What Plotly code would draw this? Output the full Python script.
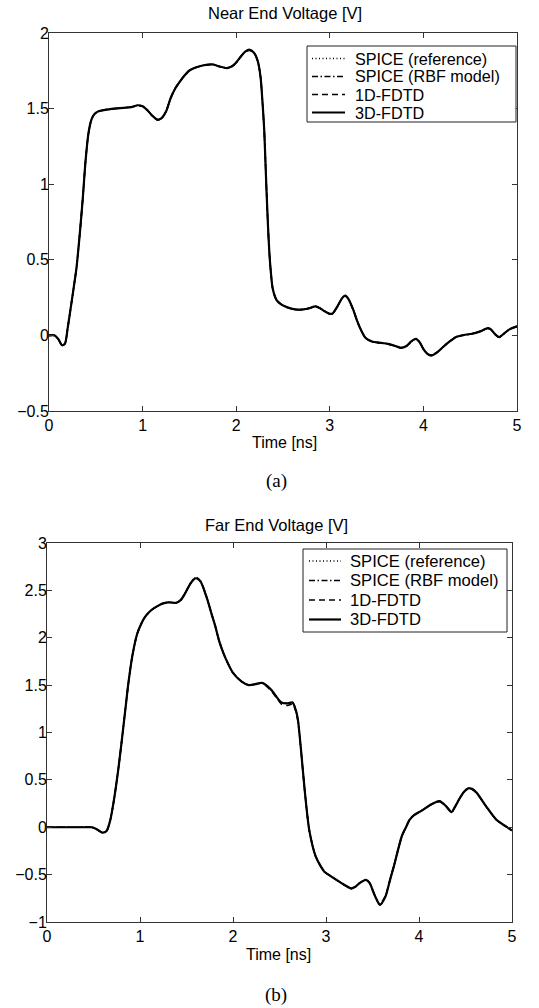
import plotly.graph_objects as go

# ---------------- Near end (a) ----------------
t_near = [0.00, 0.06, 0.10, 0.14, 0.17, 0.20, 0.26, 0.294, 0.33, 0.36, 0.39, 0.42, 0.45, 0.48,
          0.52, 0.60, 0.70, 0.80, 0.88, 0.95, 1.00, 1.05, 1.10, 1.16, 1.20, 1.25, 1.30, 1.35,
          1.40, 1.45, 1.50, 1.56, 1.64, 1.75, 1.82, 1.90, 1.96, 2.00, 2.05, 2.10, 2.14, 2.19,
          2.23, 2.26, 2.28, 2.30, 2.32, 2.34, 2.355, 2.37, 2.39, 2.43, 2.48, 2.54, 2.60, 2.66,
          2.72, 2.77, 2.85, 2.90, 2.95, 3.00, 3.03, 3.08, 3.13, 3.165, 3.20, 3.25, 3.29, 3.33,
          3.38, 3.45, 3.55, 3.62, 3.70, 3.76, 3.82, 3.87, 3.92, 3.96, 4.00, 4.05, 4.09, 4.15,
          4.21, 4.28, 4.35, 4.43, 4.52, 4.60, 4.69, 4.72, 4.77, 4.81, 4.86, 4.92, 5.00]

v_near_3d = [0.0, 0.0, -0.025, -0.065, -0.055, 0.05, 0.30, 0.449, 0.68, 0.90, 1.15, 1.33, 1.42, 1.46,
             1.48, 1.492, 1.50, 1.505, 1.51, 1.522, 1.515, 1.49, 1.455, 1.427, 1.435, 1.48, 1.57, 1.635,
             1.68, 1.72, 1.752, 1.77, 1.785, 1.792, 1.779, 1.768, 1.782, 1.805, 1.845, 1.878, 1.89, 1.87,
             1.815, 1.71, 1.55, 1.35, 1.02, 0.72, 0.54, 0.42, 0.31, 0.235, 0.205, 0.187, 0.175, 0.17,
             0.172, 0.178, 0.192, 0.178, 0.158, 0.143, 0.145, 0.19, 0.245, 0.264, 0.24, 0.17, 0.10, 0.04,
             -0.015, -0.04, -0.05, -0.056, -0.07, -0.082, -0.07, -0.04, -0.022, -0.045, -0.09, -0.125, -0.132, -0.11,
             -0.077, -0.04, -0.01, 0.002, 0.011, 0.025, 0.048, 0.04, 0.005, -0.012, 0.012, 0.04, 0.06]

v_near_1d = [0.0, 0.0, -0.025, -0.066, -0.055, 0.05, 0.30, 0.449, 0.68, 0.90, 1.15, 1.33, 1.42, 1.46,
             1.48, 1.492, 1.50, 1.505, 1.51, 1.52, 1.515, 1.49, 1.455, 1.424, 1.435, 1.48, 1.57, 1.635,
             1.68, 1.72, 1.752, 1.77, 1.785, 1.792, 1.779, 1.768, 1.782, 1.805, 1.845, 1.878, 1.885, 1.87,
             1.815, 1.71, 1.55, 1.35, 1.02, 0.72, 0.54, 0.42, 0.31, 0.235, 0.205, 0.187, 0.175, 0.17,
             0.172, 0.178, 0.19, 0.178, 0.158, 0.14, 0.145, 0.19, 0.245, 0.26, 0.24, 0.17, 0.10, 0.04,
             -0.015, -0.04, -0.05, -0.056, -0.07, -0.082, -0.07, -0.04, -0.025, -0.045, -0.09, -0.125, -0.135, -0.11,
             -0.077, -0.04, -0.01, 0.002, 0.011, 0.025, 0.045, 0.04, 0.005, -0.012, 0.012, 0.04, 0.06]

v_near_rbf = [0.0, 0.0, -0.025, -0.065, -0.055, 0.05, 0.30, 0.449, 0.68, 0.90, 1.15, 1.33, 1.42, 1.46,
              1.48, 1.492, 1.50, 1.505, 1.51, 1.522, 1.515, 1.49, 1.455, 1.427, 1.435, 1.48, 1.57, 1.635,
              1.68, 1.72, 1.752, 1.77, 1.785, 1.792, 1.779, 1.768, 1.782, 1.805, 1.845, 1.878, 1.888, 1.87,
              1.815, 1.71, 1.55, 1.35, 1.02, 0.72, 0.54, 0.42, 0.31, 0.235, 0.205, 0.187, 0.175, 0.17,
              0.172, 0.178, 0.192, 0.178, 0.158, 0.143, 0.145, 0.19, 0.245, 0.262, 0.24, 0.17, 0.10, 0.04,
              -0.015, -0.04, -0.05, -0.056, -0.07, -0.082, -0.07, -0.04, -0.022, -0.045, -0.09, -0.125, -0.13, -0.11,
              -0.077, -0.04, -0.01, 0.002, 0.011, 0.025, 0.048, 0.04, 0.005, -0.012, 0.012, 0.04, 0.06]

v_near_spice = [0.0, 0.0, -0.025, -0.065, -0.055, 0.05, 0.30, 0.449, 0.68, 0.90, 1.15, 1.33, 1.42, 1.46,
                1.48, 1.492, 1.50, 1.505, 1.51, 1.522, 1.515, 1.49, 1.455, 1.427, 1.435, 1.48, 1.57, 1.635,
                1.68, 1.72, 1.752, 1.77, 1.785, 1.792, 1.779, 1.768, 1.782, 1.805, 1.845, 1.878, 1.89, 1.87,
                1.815, 1.71, 1.55, 1.35, 1.02, 0.72, 0.54, 0.42, 0.31, 0.235, 0.205, 0.187, 0.175, 0.17,
                0.172, 0.178, 0.192, 0.178, 0.158, 0.143, 0.145, 0.19, 0.245, 0.264, 0.24, 0.17, 0.10, 0.04,
                -0.015, -0.04, -0.05, -0.056, -0.07, -0.082, -0.07, -0.04, -0.022, -0.045, -0.09, -0.125, -0.132, -0.11,
                -0.077, -0.04, -0.01, 0.002, 0.011, 0.025, 0.048, 0.04, 0.005, -0.012, 0.012, 0.04, 0.06]

# ---------------- Far end (b) ----------------
t_far = [0.00, 0.20, 0.40, 0.48, 0.53, 0.595, 0.64, 0.68, 0.725, 0.77, 0.813, 0.849, 0.875, 0.916,
         0.969, 1.02, 1.056, 1.12, 1.178, 1.24, 1.30, 1.39, 1.44, 1.48, 1.545, 1.60, 1.65, 1.72,
         1.77, 1.81, 1.85, 1.90, 1.95, 2.00, 2.09, 2.17, 2.24, 2.31, 2.37, 2.42, 2.48, 2.52,
         2.59, 2.64, 2.68, 2.70, 2.73, 2.77, 2.82, 2.89, 2.98, 3.05, 3.12, 3.20, 3.27, 3.32,
         3.36, 3.43, 3.47, 3.52, 3.58, 3.64, 3.69, 3.73, 3.815, 3.86, 3.90, 3.95, 4.02, 4.13,
         4.22, 4.29, 4.35, 4.39, 4.43, 4.48, 4.53, 4.57, 4.62, 4.72, 4.83, 4.93, 5.00]

v_far_3d = [0.0, 0.0, 0.0, 0.0, -0.018, -0.056, -0.04, 0.074, 0.32, 0.637, 0.99, 1.30, 1.52, 1.80,
            2.04, 2.16, 2.222, 2.29, 2.328, 2.36, 2.374, 2.37, 2.40, 2.46, 2.575, 2.628, 2.595, 2.416,
            2.25, 2.12, 1.97, 1.83, 1.72, 1.63, 1.54, 1.50, 1.51, 1.525, 1.49, 1.44, 1.36, 1.318,
            1.307, 1.318, 1.22, 1.12, 0.83, 0.40, -0.03, -0.31, -0.466, -0.515, -0.56, -0.61, -0.645, -0.625,
            -0.59, -0.555, -0.59, -0.71, -0.82, -0.73, -0.55, -0.41, -0.095, 0.0, 0.08, 0.13, 0.17, 0.24,
            0.276, 0.223, 0.16, 0.22, 0.293, 0.37, 0.41, 0.405, 0.364, 0.223, 0.081, 0.011, -0.035]

v_far_1d = [0.0, 0.0, 0.0, 0.0, -0.018, -0.056, -0.04, 0.074, 0.32, 0.637, 0.99, 1.30, 1.52, 1.80,
            2.04, 2.16, 2.222, 2.29, 2.328, 2.36, 2.374, 2.37, 2.40, 2.46, 2.58, 2.64, 2.60, 2.42,
            2.25, 2.12, 1.97, 1.83, 1.72, 1.63, 1.54, 1.50, 1.51, 1.52, 1.48, 1.43, 1.35, 1.30,
            1.285, 1.30, 1.21, 1.11, 0.83, 0.40, -0.03, -0.31, -0.466, -0.515, -0.56, -0.61, -0.65, -0.625,
            -0.59, -0.555, -0.59, -0.71, -0.81, -0.72, -0.55, -0.41, -0.095, 0.0, 0.08, 0.13, 0.17, 0.24,
            0.27, 0.223, 0.16, 0.22, 0.293, 0.37, 0.405, 0.40, 0.36, 0.223, 0.081, 0.011, -0.035]

v_far_rbf = [0.0, 0.0, 0.0, 0.0, -0.018, -0.056, -0.04, 0.074, 0.32, 0.637, 0.99, 1.30, 1.52, 1.80,
             2.04, 2.16, 2.222, 2.29, 2.328, 2.36, 2.374, 2.37, 2.40, 2.46, 2.575, 2.635, 2.595, 2.416,
             2.25, 2.12, 1.97, 1.83, 1.72, 1.63, 1.54, 1.50, 1.51, 1.525, 1.49, 1.44, 1.36, 1.318,
             1.307, 1.318, 1.22, 1.12, 0.83, 0.40, -0.03, -0.31, -0.466, -0.515, -0.56, -0.61, -0.645, -0.625,
             -0.59, -0.555, -0.59, -0.71, -0.82, -0.73, -0.55, -0.41, -0.095, 0.0, 0.08, 0.13, 0.17, 0.24,
             0.276, 0.223, 0.16, 0.22, 0.293, 0.37, 0.41, 0.405, 0.364, 0.223, 0.081, 0.011, -0.035]

v_far_spice = [0.0, 0.0, 0.0, 0.0, -0.018, -0.056, -0.04, 0.074, 0.32, 0.637, 0.99, 1.30, 1.52, 1.80,
               2.04, 2.16, 2.222, 2.29, 2.328, 2.36, 2.374, 2.37, 2.40, 2.46, 2.575, 2.632, 2.595, 2.416,
               2.25, 2.12, 1.97, 1.83, 1.72, 1.63, 1.54, 1.50, 1.51, 1.525, 1.49, 1.44, 1.36, 1.318,
               1.307, 1.318, 1.22, 1.12, 0.83, 0.40, -0.03, -0.31, -0.466, -0.515, -0.56, -0.61, -0.645, -0.625,
               -0.59, -0.555, -0.59, -0.71, -0.815, -0.73, -0.55, -0.41, -0.095, 0.0, 0.08, 0.13, 0.17, 0.24,
               0.276, 0.223, 0.16, 0.22, 0.293, 0.37, 0.41, 0.405, 0.364, 0.223, 0.081, 0.011, -0.035]

series_names = ["SPICE (reference)", "SPICE (RBF model)", "1D-FDTD", "3D-FDTD"]
x_ticks = [0, 1, 2, 3, 4, 5]
y_ticks_near = [-0.5, 0, 0.5, 1, 1.5, 2]
y_ticks_far = [-1, -0.5, 0, 0.5, 1, 1.5, 2, 2.5, 3]

W, H = 539, 1008
FONT = "Liberation Sans, Arial, Helvetica, sans-serif"
SERIF = "Liberation Serif, Times New Roman, serif"

styles = [
    dict(dash="1px,2.5px", width=1.5),
    dict(dash="6px,2.5px,1.5px,2.5px", width=1.5),
    dict(dash="6px,4px", width=1.6),
    dict(dash="solid", width=2.2),
]

fig = go.Figure()

near_sets = [v_near_spice, v_near_rbf, v_near_1d, v_near_3d]
far_sets = [v_far_spice, v_far_rbf, v_far_1d, v_far_3d]

for name, v, st in zip(series_names, near_sets, styles):
    fig.add_trace(go.Scatter(x=t_near, y=v, mode="lines", name=name, showlegend=False,
                             line=dict(color="black", width=st["width"], dash=st["dash"],
                                       shape="spline", smoothing=0.7),
                             xaxis="x", yaxis="y"))
for name, v, st in zip(series_names, far_sets, styles):
    fig.add_trace(go.Scatter(x=t_far, y=v, mode="lines", name=name, showlegend=False,
                             line=dict(color="black", width=st["width"], dash=st["dash"],
                                       shape="spline", smoothing=0.7),
                             xaxis="x2", yaxis="y2"))

axis_common = dict(showline=True, linecolor="#333", linewidth=1, mirror="ticks",
                   ticks="inside", ticklen=5, tickcolor="#333", tickwidth=1,
                   showgrid=False, zeroline=False, automargin=False,
                   tickfont=dict(family=FONT, size=16, color="black"))

fig.update_layout(
    width=W, height=H,
    margin=dict(l=0, r=0, t=0, b=0),
    paper_bgcolor="white", plot_bgcolor="white",
    font=dict(family=FONT, size=16, color="black"),
    showlegend=False,
    xaxis=dict(domain=[49 / W, 517 / W], anchor="y", range=[0, 5], tickvals=x_ticks,
               ticktext=[str(v) for v in x_ticks], **axis_common),
    yaxis=dict(domain=[1 - 411 / H, 1 - 33 / H], anchor="x", range=[-0.5, 2], tickvals=y_ticks_near,
               ticktext=["−0.5", "0", "0.5", "1", "1.5", "2"], ticklabelstandoff=-4, **axis_common),
    xaxis2=dict(domain=[47 / W, 512 / W], anchor="y2", range=[0, 5], tickvals=x_ticks,
                ticktext=[str(v) for v in x_ticks], **axis_common),
    yaxis2=dict(domain=[1 - 922 / H, 1 - 543 / H], anchor="x2", range=[-1, 3], tickvals=y_ticks_far,
                ticktext=["−1", "−0.5", "0", "0.5", "1", "1.5", "2", "2.5", "3"], ticklabelstandoff=-4,
                **axis_common),
)

# ---- titles and labels ----
ann = [
    dict(text="Near End Voltage [V]", x=285 / W, y=1 - 13 / H, size=16.5, fam=FONT),
    dict(text="Time [ns]", x=284 / W, y=1 - 442 / H, size=16, fam=FONT),
    dict(text="(a)", x=276 / W, y=1 - 481 / H, size=19, fam=SERIF),
    dict(text="Far End Voltage [V]", x=276 / W, y=1 - 525 / H, size=16.5, fam=FONT),
    dict(text="Time [ns]", x=278 / W, y=1 - 954 / H, size=16, fam=FONT),
    dict(text="(b)", x=276 / W, y=1 - 995 / H, size=19, fam=SERIF),
]
for a in ann:
    fig.add_annotation(text=a["text"], x=a["x"], y=a["y"], xref="paper", yref="paper",
                       xanchor="center", yanchor="middle", showarrow=False,
                       font=dict(family=a["fam"], size=a["size"], color="black"))

# ---- MATLAB-style legend boxes (drawn in paper space) ----
def add_legend(box, rows, sample_x, text_x, fsize):
    x0, y0, x1, y1 = box
    fig.add_shape(type="rect", xref="paper", yref="paper",
                  x0=x0 / W, x1=x1 / W, y0=1 - y1 / H, y1=1 - y0 / H,
                  line=dict(color="#222", width=1), fillcolor="white", layer="above")
    for name, st, ry in zip(series_names, styles, rows):
        fig.add_shape(type="line", xref="paper", yref="paper",
                      x0=sample_x[0] / W, x1=sample_x[1] / W, y0=1 - ry / H, y1=1 - ry / H,
                      line=dict(color="black", width=st["width"], dash=st["dash"]), layer="above")
        fig.add_annotation(text=name, x=text_x / W, y=1 - ry / H, xref="paper", yref="paper",
                           xanchor="left", yanchor="middle", showarrow=False,
                           font=dict(family=FONT, size=fsize, color="black"))

add_legend((307, 46, 516, 122), [58.5, 76.5, 94.5, 112.5], (312, 345), 353, 16.2)
add_legend((303, 549, 507, 632), [561, 580.5, 600, 619.5], (309, 341), 348, 16.6)

fig.write_html("out.html", config={"displayModeBar": False},
               post_script="document.body.style.margin='0px';")
